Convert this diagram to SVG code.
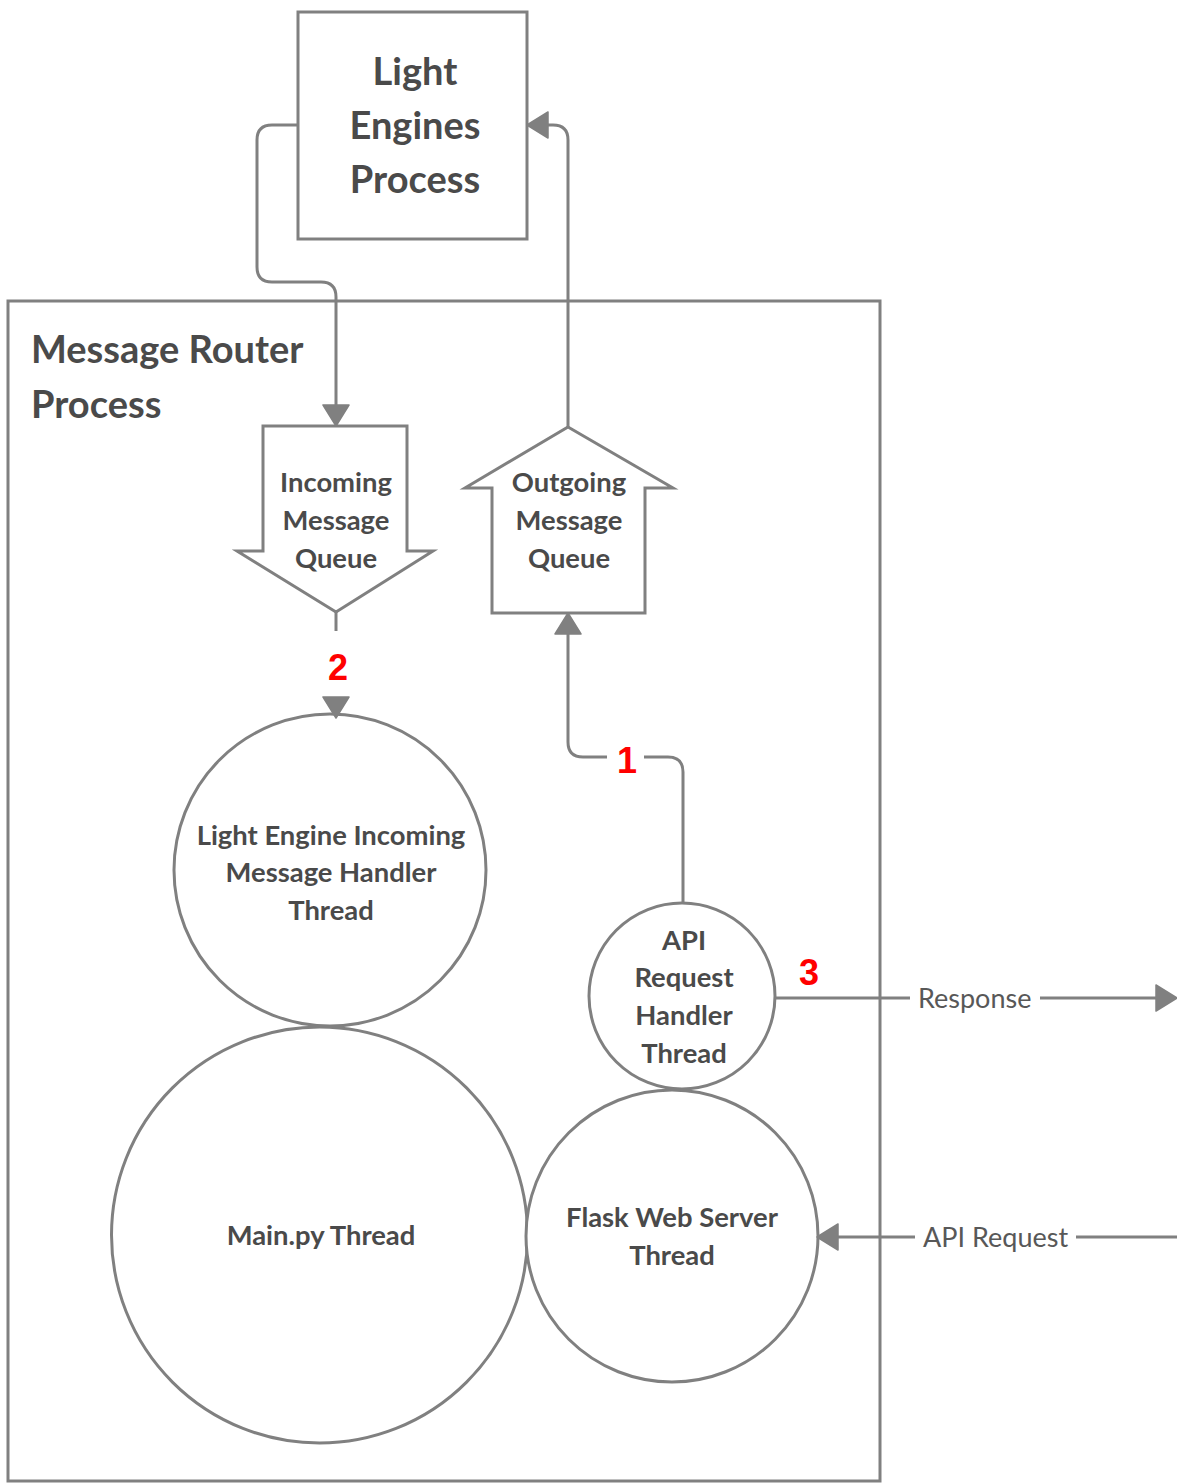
<svg xmlns="http://www.w3.org/2000/svg" width="1177" height="1483" viewBox="0 0 1177 1483">
  <style>
    .shape { fill: #ffffff; stroke: #808080; stroke-width: 3; }
    .frame { fill: none; stroke: #808080; stroke-width: 3; }
    .wire { fill: none; stroke: #808080; stroke-width: 3; }
    .lbl { font-family: Lato, "Open Sans", "Liberation Sans", sans-serif; font-weight: bold; fill: #4a4a4a; text-anchor: middle; }
    .big { font-size: 38px; }
    .mid { font-size: 27.4px; }
    .edge { font-family: Lato, "Open Sans", "Liberation Sans", sans-serif; font-size: 27px; fill: #585858; }
    .num { font-family: "Liberation Sans", Arial, sans-serif; font-size: 36px; font-weight: bold; fill: #ff0000; text-anchor: middle; }
  </style>
  <defs>
    <marker id="arrow" markerUnits="userSpaceOnUse" markerWidth="22" markerHeight="26" refX="0" refY="13" orient="auto" overflow="visible">
      <path d="M0,0 L21,13 L0,26 z" fill="#808080" stroke="#808080" stroke-width="1.5" stroke-linejoin="round"/>
    </marker>
  </defs>

  <rect width="1177" height="1483" fill="#ffffff"/>

  <!-- Message Router Process container -->
  <g id="message-router">
    <rect class="frame" x="8" y="301" width="872" height="1180"/>
    <text class="lbl big" style="text-anchor:start" x="31" y="363">Message Router</text>
    <text class="lbl big" style="text-anchor:start" x="31" y="418">Process</text>
  </g>

  <!-- Light Engines Process -->
  <g id="light-engines">
    <rect class="shape" x="298" y="12" width="229" height="227"/>
    <text class="lbl big" x="415" y="85">Light</text>
    <text class="lbl big" x="415" y="139">Engines</text>
    <text class="lbl big" x="415" y="193">Process</text>
  </g>

  <!-- Incoming Message Queue (down arrow) -->
  <g id="incoming-queue">
    <path class="shape" d="M263,426 H407 V551 H433 L336,612 L237,551 H263 Z"/>
    <text class="lbl mid" x="336" y="492">Incoming</text>
    <text class="lbl mid" x="336" y="530">Message</text>
    <text class="lbl mid" x="336" y="568">Queue</text>
  </g>

  <!-- Outgoing Message Queue (up arrow) -->
  <g id="outgoing-queue">
    <path class="shape" d="M568,427 L673,488 H645 V613 H492 V488 H465 Z"/>
    <text class="lbl mid" x="569" y="492">Outgoing</text>
    <text class="lbl mid" x="569" y="530">Message</text>
    <text class="lbl mid" x="569" y="568">Queue</text>
  </g>

  <!-- Light Engine Incoming Message Handler Thread -->
  <g id="le-handler">
    <circle class="shape" cx="330" cy="870" r="156"/>
    <text class="lbl mid" x="331" y="845">Light Engine Incoming</text>
    <text class="lbl mid" x="331" y="882">Message Handler</text>
    <text class="lbl mid" x="331" y="920">Thread</text>
  </g>

  <!-- Main.py Thread -->
  <g id="main-thread">
    <circle class="shape" cx="319.5" cy="1235" r="208"/>
    <text class="lbl mid" x="321" y="1245">Main.py Thread</text>
  </g>

  <!-- API Request Handler Thread -->
  <g id="api-handler">
    <circle class="shape" cx="682" cy="996" r="93"/>
    <text class="lbl mid" x="684" y="950">API</text>
    <text class="lbl mid" x="684" y="987">Request</text>
    <text class="lbl mid" x="684" y="1025">Handler</text>
    <text class="lbl mid" x="684" y="1063">Thread</text>
  </g>

  <!-- Flask Web Server Thread -->
  <g id="flask-thread">
    <circle class="shape" cx="672" cy="1236" r="146"/>
    <text class="lbl mid" x="672" y="1227">Flask Web Server</text>
    <text class="lbl mid" x="672" y="1265">Thread</text>
  </g>

  <!-- Connectors -->
  <g id="connectors">
    <path class="wire" d="M298,125 H272 Q257,125 257,140 V267 Q257,282 272,282 H321 Q336,282 336,297 V405" marker-end="url(#arrow)"/>
    <path class="wire" d="M568,427 V140 Q568,125 553,125 H548" marker-end="url(#arrow)"/>
    <path class="wire" d="M336,612 V697" stroke-dasharray="19 66" marker-end="url(#arrow)"/>
    <path class="wire" d="M683,903 V772 Q683,757 668,757 H644"/>
    <path class="wire" d="M607,757 H583 Q568,757 568,742 V634" marker-end="url(#arrow)"/>
    <path class="wire" d="M775,998 H910"/>
    <path class="wire" d="M1040,998 H1156" marker-end="url(#arrow)"/>
    <path class="wire" d="M1177,1237 H1076"/>
    <path class="wire" d="M915,1237 H838" marker-end="url(#arrow)"/>

    <text class="edge" x="918" y="1008">Response</text>
    <text class="edge" x="923" y="1247">API Request</text>

    <text class="num" x="627" y="773">1</text>
    <text class="num" x="338" y="680">2</text>
    <text class="num" x="809" y="985">3</text>
  </g>
</svg>
